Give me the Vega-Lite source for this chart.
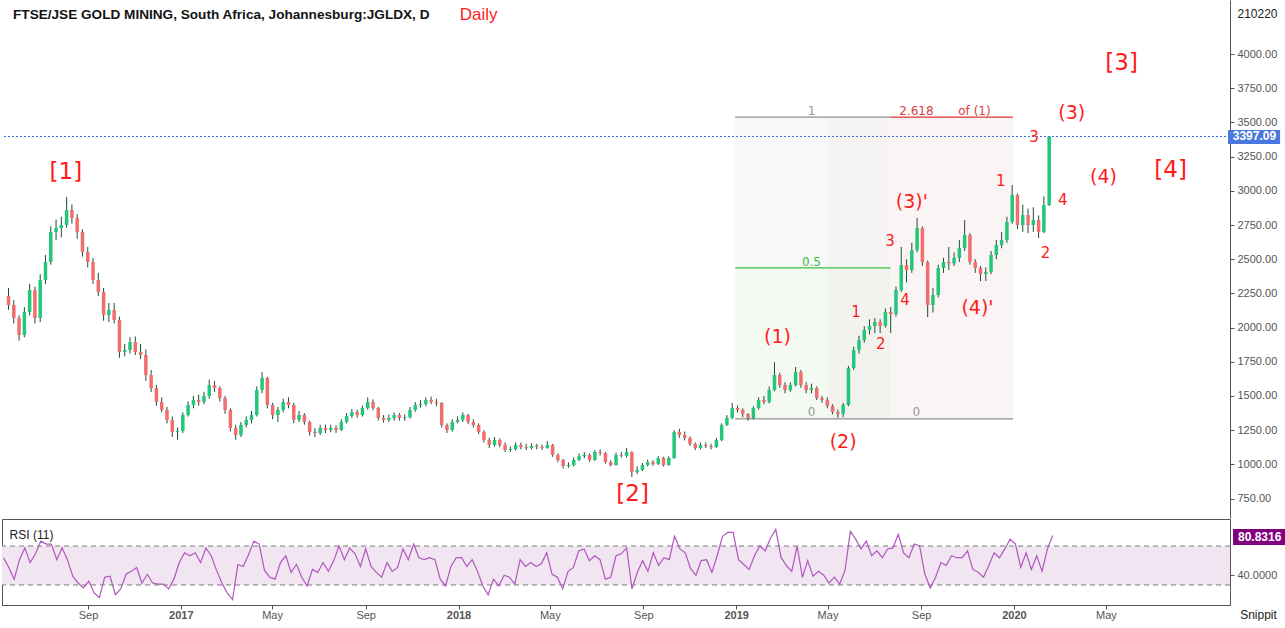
{
  "$schema": "https://vega.github.io/schema/vega-lite/v6.json",
  "padding": 0,
  "background": "white",
  "spacing": 0,
  "config": {
    "view": {"stroke": null},
    "font": "Liberation Sans",
    "concat": {"spacing": 0},
    "axis": {"labelOverlap": false, "labelFlush": false}
  },
  "datasets": {
    "px": [
      {"d":"2016-05-13","o":2230,"h":2290,"l":2130,"c":2165,"r":58},
      {"d":"2016-05-20","o":2165,"h":2200,"l":2030,"c":2070,"r":48},
      {"d":"2016-05-27","o":2070,"h":2090,"l":1905,"c":1946,"r":36},
      {"d":"2016-06-03","o":1946,"h":2150,"l":1930,"c":2114,"r":56},
      {"d":"2016-06-10","o":2114,"h":2320,"l":2090,"c":2275,"r":68},
      {"d":"2016-06-17","o":2275,"h":2300,"l":2030,"c":2070,"r":53},
      {"d":"2016-06-24","o":2070,"h":2390,"l":2040,"c":2348,"r":62},
      {"d":"2016-07-01","o":2348,"h":2530,"l":2320,"c":2480,"r":75},
      {"d":"2016-07-08","o":2480,"h":2740,"l":2460,"c":2699,"r":72},
      {"d":"2016-07-15","o":2699,"h":2790,"l":2640,"c":2728,"r":72},
      {"d":"2016-07-22","o":2728,"h":2810,"l":2660,"c":2750,"r":56},
      {"d":"2016-07-29","o":2750,"h":2955,"l":2730,"c":2860,"r":68},
      {"d":"2016-08-05","o":2860,"h":2900,"l":2760,"c":2801,"r":56},
      {"d":"2016-08-12","o":2801,"h":2830,"l":2650,"c":2699,"r":39},
      {"d":"2016-08-19","o":2699,"h":2720,"l":2520,"c":2553,"r":32},
      {"d":"2016-08-26","o":2553,"h":2590,"l":2440,"c":2480,"r":27},
      {"d":"2016-09-02","o":2480,"h":2510,"l":2320,"c":2348,"r":34},
      {"d":"2016-09-09","o":2348,"h":2400,"l":2230,"c":2260,"r":22},
      {"d":"2016-09-16","o":2260,"h":2290,"l":2050,"c":2092,"r":17},
      {"d":"2016-09-23","o":2092,"h":2180,"l":2040,"c":2129,"r":38},
      {"d":"2016-09-30","o":2129,"h":2180,"l":2030,"c":2055,"r":39},
      {"d":"2016-10-07","o":2055,"h":2080,"l":1780,"c":1822,"r":20},
      {"d":"2016-10-14","o":1822,"h":1880,"l":1790,"c":1836,"r":26},
      {"d":"2016-10-21","o":1836,"h":1930,"l":1810,"c":1895,"r":41},
      {"d":"2016-10-28","o":1895,"h":1935,"l":1800,"c":1822,"r":44},
      {"d":"2016-11-04","o":1822,"h":1880,"l":1770,"c":1800,"r":48},
      {"d":"2016-11-11","o":1800,"h":1840,"l":1610,"c":1653,"r":32},
      {"d":"2016-11-18","o":1653,"h":1690,"l":1530,"c":1558,"r":41},
      {"d":"2016-11-25","o":1558,"h":1580,"l":1430,"c":1456,"r":32},
      {"d":"2016-12-02","o":1456,"h":1490,"l":1380,"c":1398,"r":31},
      {"d":"2016-12-09","o":1398,"h":1420,"l":1300,"c":1325,"r":31},
      {"d":"2016-12-16","o":1325,"h":1350,"l":1200,"c":1237,"r":26},
      {"d":"2016-12-23","o":1237,"h":1270,"l":1180,"c":1245,"r":36},
      {"d":"2016-12-30","o":1245,"h":1380,"l":1230,"c":1361,"r":53},
      {"d":"2017-01-06","o":1361,"h":1460,"l":1350,"c":1434,"r":63},
      {"d":"2017-01-13","o":1434,"h":1500,"l":1410,"c":1471,"r":60},
      {"d":"2017-01-20","o":1471,"h":1510,"l":1430,"c":1456,"r":63},
      {"d":"2017-01-27","o":1456,"h":1530,"l":1440,"c":1500,"r":53},
      {"d":"2017-02-03","o":1500,"h":1620,"l":1480,"c":1580,"r":68},
      {"d":"2017-02-10","o":1580,"h":1610,"l":1530,"c":1558,"r":60},
      {"d":"2017-02-17","o":1558,"h":1570,"l":1460,"c":1485,"r":45},
      {"d":"2017-02-24","o":1485,"h":1500,"l":1370,"c":1398,"r":32},
      {"d":"2017-03-03","o":1398,"h":1410,"l":1240,"c":1266,"r":22},
      {"d":"2017-03-10","o":1266,"h":1290,"l":1180,"c":1215,"r":15},
      {"d":"2017-03-17","o":1215,"h":1310,"l":1200,"c":1288,"r":51},
      {"d":"2017-03-24","o":1288,"h":1350,"l":1270,"c":1325,"r":49},
      {"d":"2017-03-31","o":1325,"h":1390,"l":1300,"c":1361,"r":61},
      {"d":"2017-04-07","o":1361,"h":1570,"l":1350,"c":1544,"r":75},
      {"d":"2017-04-14","o":1544,"h":1675,"l":1520,"c":1632,"r":72},
      {"d":"2017-04-21","o":1632,"h":1640,"l":1410,"c":1434,"r":45},
      {"d":"2017-04-28","o":1434,"h":1450,"l":1330,"c":1361,"r":38},
      {"d":"2017-05-05","o":1361,"h":1420,"l":1310,"c":1398,"r":36},
      {"d":"2017-05-12","o":1398,"h":1480,"l":1380,"c":1456,"r":53},
      {"d":"2017-05-19","o":1456,"h":1490,"l":1410,"c":1434,"r":60},
      {"d":"2017-05-26","o":1434,"h":1450,"l":1300,"c":1325,"r":43},
      {"d":"2017-06-02","o":1325,"h":1390,"l":1310,"c":1361,"r":51},
      {"d":"2017-06-09","o":1361,"h":1375,"l":1290,"c":1310,"r":38},
      {"d":"2017-06-16","o":1310,"h":1320,"l":1210,"c":1237,"r":29},
      {"d":"2017-06-23","o":1237,"h":1265,"l":1200,"c":1229,"r":46},
      {"d":"2017-06-30","o":1229,"h":1290,"l":1215,"c":1266,"r":43},
      {"d":"2017-07-07","o":1266,"h":1290,"l":1230,"c":1251,"r":53},
      {"d":"2017-07-14","o":1251,"h":1290,"l":1235,"c":1266,"r":44},
      {"d":"2017-07-21","o":1266,"h":1285,"l":1230,"c":1251,"r":55},
      {"d":"2017-07-28","o":1251,"h":1330,"l":1245,"c":1310,"r":70},
      {"d":"2017-08-04","o":1310,"h":1375,"l":1300,"c":1354,"r":56},
      {"d":"2017-08-11","o":1354,"h":1405,"l":1340,"c":1383,"r":68},
      {"d":"2017-08-18","o":1383,"h":1400,"l":1340,"c":1361,"r":62},
      {"d":"2017-08-25","o":1361,"h":1430,"l":1350,"c":1412,"r":49},
      {"d":"2017-09-01","o":1412,"h":1490,"l":1400,"c":1456,"r":67},
      {"d":"2017-09-08","o":1456,"h":1475,"l":1395,"c":1412,"r":49},
      {"d":"2017-09-15","o":1412,"h":1420,"l":1320,"c":1339,"r":43},
      {"d":"2017-09-22","o":1339,"h":1360,"l":1305,"c":1325,"r":38},
      {"d":"2017-09-29","o":1325,"h":1365,"l":1310,"c":1339,"r":53},
      {"d":"2017-10-06","o":1339,"h":1380,"l":1320,"c":1361,"r":44},
      {"d":"2017-10-13","o":1361,"h":1375,"l":1320,"c":1339,"r":48},
      {"d":"2017-10-20","o":1339,"h":1365,"l":1320,"c":1345,"r":67},
      {"d":"2017-10-27","o":1345,"h":1420,"l":1335,"c":1398,"r":56},
      {"d":"2017-11-03","o":1398,"h":1455,"l":1385,"c":1434,"r":72},
      {"d":"2017-11-10","o":1434,"h":1470,"l":1415,"c":1441,"r":58},
      {"d":"2017-11-17","o":1441,"h":1490,"l":1425,"c":1471,"r":56},
      {"d":"2017-11-24","o":1471,"h":1495,"l":1440,"c":1456,"r":58},
      {"d":"2017-12-01","o":1456,"h":1480,"l":1425,"c":1449,"r":56},
      {"d":"2017-12-08","o":1449,"h":1455,"l":1270,"c":1288,"r":36},
      {"d":"2017-12-15","o":1288,"h":1300,"l":1230,"c":1251,"r":29},
      {"d":"2017-12-22","o":1251,"h":1330,"l":1240,"c":1310,"r":49},
      {"d":"2017-12-29","o":1310,"h":1350,"l":1300,"c":1325,"r":58},
      {"d":"2018-01-05","o":1325,"h":1380,"l":1310,"c":1361,"r":58},
      {"d":"2018-01-12","o":1361,"h":1370,"l":1295,"c":1310,"r":49},
      {"d":"2018-01-19","o":1310,"h":1330,"l":1270,"c":1288,"r":56},
      {"d":"2018-01-26","o":1288,"h":1300,"l":1220,"c":1237,"r":44},
      {"d":"2018-02-02","o":1237,"h":1250,"l":1160,"c":1178,"r":29},
      {"d":"2018-02-09","o":1178,"h":1195,"l":1120,"c":1142,"r":20},
      {"d":"2018-02-16","o":1142,"h":1200,"l":1130,"c":1178,"r":36},
      {"d":"2018-02-23","o":1178,"h":1190,"l":1125,"c":1142,"r":29},
      {"d":"2018-03-02","o":1142,"h":1160,"l":1090,"c":1105,"r":40},
      {"d":"2018-03-09","o":1105,"h":1130,"l":1090,"c":1112,"r":38},
      {"d":"2018-03-16","o":1112,"h":1160,"l":1100,"c":1142,"r":31},
      {"d":"2018-03-23","o":1142,"h":1160,"l":1110,"c":1127,"r":56},
      {"d":"2018-03-30","o":1127,"h":1150,"l":1105,"c":1120,"r":49},
      {"d":"2018-04-06","o":1120,"h":1155,"l":1110,"c":1134,"r":53},
      {"d":"2018-04-13","o":1134,"h":1150,"l":1110,"c":1127,"r":49},
      {"d":"2018-04-20","o":1127,"h":1145,"l":1105,"c":1120,"r":52},
      {"d":"2018-04-27","o":1120,"h":1170,"l":1115,"c":1142,"r":63},
      {"d":"2018-05-04","o":1142,"h":1150,"l":1055,"c":1069,"r":41},
      {"d":"2018-05-11","o":1069,"h":1080,"l":1015,"c":1032,"r":38},
      {"d":"2018-05-18","o":1032,"h":1040,"l":970,"c":988,"r":26},
      {"d":"2018-05-25","o":988,"h":1015,"l":975,"c":995,"r":44},
      {"d":"2018-06-01","o":995,"h":1050,"l":985,"c":1032,"r":48},
      {"d":"2018-06-08","o":1032,"h":1080,"l":1025,"c":1061,"r":65},
      {"d":"2018-06-15","o":1061,"h":1090,"l":1045,"c":1069,"r":67},
      {"d":"2018-06-22","o":1069,"h":1080,"l":1020,"c":1032,"r":55},
      {"d":"2018-06-29","o":1032,"h":1105,"l":1025,"c":1090,"r":60},
      {"d":"2018-07-06","o":1090,"h":1110,"l":1065,"c":1083,"r":56},
      {"d":"2018-07-13","o":1083,"h":1090,"l":1005,"c":1017,"r":36},
      {"d":"2018-07-20","o":1017,"h":1030,"l":985,"c":995,"r":38},
      {"d":"2018-07-27","o":995,"h":1085,"l":990,"c":1069,"r":60},
      {"d":"2018-08-03","o":1069,"h":1090,"l":1050,"c":1062,"r":62},
      {"d":"2018-08-10","o":1062,"h":1120,"l":1050,"c":1090,"r":68},
      {"d":"2018-08-17","o":1090,"h":1095,"l":908,"c":944,"r":26},
      {"d":"2018-08-24","o":944,"h":985,"l":930,"c":959,"r":43},
      {"d":"2018-08-31","o":959,"h":1010,"l":950,"c":995,"r":55},
      {"d":"2018-09-07","o":995,"h":1035,"l":985,"c":1017,"r":44},
      {"d":"2018-09-14","o":1017,"h":1030,"l":990,"c":1003,"r":63},
      {"d":"2018-09-21","o":1003,"h":1060,"l":995,"c":1047,"r":50},
      {"d":"2018-09-28","o":1047,"h":1055,"l":985,"c":995,"r":58},
      {"d":"2018-10-05","o":995,"h":1060,"l":990,"c":1047,"r":56},
      {"d":"2018-10-12","o":1047,"h":1250,"l":1040,"c":1237,"r":80},
      {"d":"2018-10-19","o":1237,"h":1260,"l":1195,"c":1215,"r":67},
      {"d":"2018-10-26","o":1215,"h":1240,"l":1175,"c":1193,"r":63},
      {"d":"2018-11-02","o":1193,"h":1205,"l":1135,"c":1149,"r":47},
      {"d":"2018-11-09","o":1149,"h":1160,"l":1105,"c":1120,"r":40},
      {"d":"2018-11-16","o":1120,"h":1160,"l":1110,"c":1142,"r":55},
      {"d":"2018-11-23","o":1142,"h":1160,"l":1120,"c":1134,"r":56},
      {"d":"2018-11-30","o":1134,"h":1150,"l":1110,"c":1127,"r":43},
      {"d":"2018-12-07","o":1127,"h":1195,"l":1120,"c":1178,"r":60},
      {"d":"2018-12-14","o":1178,"h":1300,"l":1170,"c":1288,"r":80},
      {"d":"2018-12-21","o":1288,"h":1360,"l":1280,"c":1339,"r":84},
      {"d":"2018-12-28","o":1339,"h":1450,"l":1330,"c":1412,"r":84},
      {"d":"2019-01-04","o":1412,"h":1430,"l":1380,"c":1398,"r":56},
      {"d":"2019-01-11","o":1398,"h":1410,"l":1345,"c":1368,"r":51},
      {"d":"2019-01-18","o":1368,"h":1375,"l":1320,"c":1339,"r":46},
      {"d":"2019-01-25","o":1339,"h":1425,"l":1330,"c":1412,"r":60},
      {"d":"2019-02-01","o":1412,"h":1490,"l":1400,"c":1471,"r":70},
      {"d":"2019-02-08","o":1471,"h":1500,"l":1440,"c":1456,"r":65},
      {"d":"2019-02-15","o":1456,"h":1570,"l":1445,"c":1544,"r":78},
      {"d":"2019-02-22","o":1544,"h":1748,"l":1535,"c":1653,"r":87},
      {"d":"2019-03-01","o":1653,"h":1670,"l":1560,"c":1580,"r":58},
      {"d":"2019-03-08","o":1580,"h":1600,"l":1520,"c":1544,"r":50},
      {"d":"2019-03-15","o":1544,"h":1600,"l":1530,"c":1580,"r":44},
      {"d":"2019-03-22","o":1580,"h":1712,"l":1570,"c":1675,"r":70},
      {"d":"2019-03-29","o":1675,"h":1690,"l":1560,"c":1580,"r":38},
      {"d":"2019-04-05","o":1580,"h":1600,"l":1520,"c":1544,"r":55},
      {"d":"2019-04-12","o":1544,"h":1590,"l":1520,"c":1558,"r":39},
      {"d":"2019-04-19","o":1558,"h":1570,"l":1470,"c":1485,"r":44},
      {"d":"2019-04-26","o":1485,"h":1500,"l":1450,"c":1471,"r":40},
      {"d":"2019-05-03","o":1471,"h":1490,"l":1410,"c":1427,"r":32},
      {"d":"2019-05-10","o":1427,"h":1440,"l":1365,"c":1383,"r":38},
      {"d":"2019-05-17","o":1383,"h":1400,"l":1340,"c":1368,"r":31},
      {"d":"2019-05-24","o":1368,"h":1450,"l":1345,"c":1434,"r":45},
      {"d":"2019-05-31","o":1434,"h":1720,"l":1425,"c":1705,"r":85},
      {"d":"2019-06-07","o":1705,"h":1860,"l":1690,"c":1836,"r":77},
      {"d":"2019-06-14","o":1836,"h":1940,"l":1810,"c":1909,"r":67},
      {"d":"2019-06-21","o":1909,"h":2010,"l":1890,"c":1982,"r":75},
      {"d":"2019-06-28","o":1982,"h":2060,"l":1950,"c":2012,"r":60},
      {"d":"2019-07-05","o":2012,"h":2070,"l":1960,"c":2041,"r":65},
      {"d":"2019-07-12","o":2041,"h":2060,"l":1960,"c":2012,"r":58},
      {"d":"2019-07-19","o":2012,"h":2140,"l":2000,"c":2114,"r":67},
      {"d":"2019-07-26","o":2114,"h":2150,"l":1960,"c":2099,"r":68},
      {"d":"2019-08-02","o":2099,"h":2300,"l":2080,"c":2275,"r":82},
      {"d":"2019-08-09","o":2275,"h":2590,"l":2260,"c":2458,"r":63},
      {"d":"2019-08-16","o":2458,"h":2500,"l":2330,"c":2421,"r":58},
      {"d":"2019-08-23","o":2421,"h":2620,"l":2400,"c":2567,"r":72},
      {"d":"2019-08-30","o":2567,"h":2801,"l":2550,"c":2728,"r":70},
      {"d":"2019-09-06","o":2728,"h":2740,"l":2450,"c":2480,"r":41},
      {"d":"2019-09-13","o":2480,"h":2490,"l":2077,"c":2165,"r":27},
      {"d":"2019-09-20","o":2165,"h":2290,"l":2110,"c":2238,"r":38},
      {"d":"2019-09-27","o":2238,"h":2460,"l":2220,"c":2436,"r":53},
      {"d":"2019-10-04","o":2436,"h":2510,"l":2400,"c":2480,"r":50},
      {"d":"2019-10-11","o":2480,"h":2590,"l":2420,"c":2470,"r":60},
      {"d":"2019-10-18","o":2470,"h":2550,"l":2450,"c":2509,"r":58},
      {"d":"2019-10-25","o":2509,"h":2640,"l":2480,"c":2582,"r":58},
      {"d":"2019-11-01","o":2582,"h":2787,"l":2560,"c":2677,"r":65},
      {"d":"2019-11-08","o":2677,"h":2690,"l":2460,"c":2480,"r":46},
      {"d":"2019-11-15","o":2480,"h":2500,"l":2400,"c":2436,"r":43},
      {"d":"2019-11-22","o":2436,"h":2450,"l":2340,"c":2392,"r":38},
      {"d":"2019-11-29","o":2392,"h":2440,"l":2340,"c":2406,"r":50},
      {"d":"2019-12-06","o":2406,"h":2560,"l":2390,"c":2531,"r":63},
      {"d":"2019-12-13","o":2531,"h":2640,"l":2500,"c":2604,"r":58},
      {"d":"2019-12-20","o":2604,"h":2700,"l":2580,"c":2640,"r":67},
      {"d":"2019-12-27","o":2640,"h":2810,"l":2620,"c":2772,"r":77},
      {"d":"2020-01-03","o":2772,"h":3042,"l":2760,"c":2969,"r":72},
      {"d":"2020-01-10","o":2969,"h":2980,"l":2720,"c":2750,"r":48},
      {"d":"2020-01-17","o":2750,"h":2900,"l":2700,"c":2823,"r":63},
      {"d":"2020-01-24","o":2823,"h":2870,"l":2690,"c":2750,"r":46},
      {"d":"2020-01-31","o":2750,"h":2880,"l":2700,"c":2787,"r":60},
      {"d":"2020-02-07","o":2787,"h":2820,"l":2655,"c":2699,"r":44},
      {"d":"2020-02-14","o":2699,"h":2960,"l":2690,"c":2896,"r":67},
      {"d":"2020-02-21","o":2896,"h":3397.09,"l":2890,"c":3397.09,"r":80.83}
    ],
    "zones": [
      {"a":"2019-01-01","b":"2019-05-03","lo":2436,"hi":3539,"z":"A"},
      {"a":"2019-01-01","b":"2019-05-03","lo":1332,"hi":2436,"z":"B"},
      {"a":"2019-05-03","b":"2019-07-26","lo":2436,"hi":3539,"z":"C"},
      {"a":"2019-05-03","b":"2019-07-26","lo":1332,"hi":2436,"z":"D"},
      {"a":"2019-07-26","b":"2020-01-04","lo":1332,"hi":3539,"z":"E"}
    ],
    "fibs": [
      {"a":"2019-01-01","b":"2019-07-26","p":3539,"k":"gray"},
      {"a":"2019-07-26","b":"2020-01-04","p":3539,"k":"red"},
      {"a":"2019-01-01","b":"2019-07-26","p":2436,"k":"green"},
      {"a":"2019-01-01","b":"2020-01-04","p":1332,"k":"gray"}
    ],
    "labels": [
      {"d":"2016-07-28","p":3137,"t":"[1]","g":"big"},
      {"d":"2018-08-18","p":784,"t":"[2]","g":"big"},
      {"d":"2020-05-27","p":3934,"t":"[3]","g":"big"},
      {"d":"2020-07-31","p":3152,"t":"[4]","g":"big"},
      {"d":"2019-02-26","p":1931,"t":"(1)","g":"mid"},
      {"d":"2019-05-24","p":1164,"t":"(2)","g":"mid"},
      {"d":"2019-08-23","p":2918,"t":"(3)'","g":"mid"},
      {"d":"2019-11-18","p":2143,"t":"(4)'","g":"mid"},
      {"d":"2020-03-22","p":3569,"t":"(3)","g":"mid"},
      {"d":"2020-05-03","p":3101,"t":"(4)","g":"mid"},
      {"d":"2019-06-10","p":2114,"t":"1","g":"small"},
      {"d":"2019-07-13","p":1880,"t":"2","g":"small"},
      {"d":"2019-07-25","p":2633,"t":"3","g":"small"},
      {"d":"2019-08-14","p":2202,"t":"4","g":"small"},
      {"d":"2019-12-19","p":3072,"t":"1","g":"small"},
      {"d":"2020-02-16","p":2545,"t":"2","g":"small"},
      {"d":"2020-02-01","p":3393,"t":"3","g":"small"},
      {"d":"2020-03-10","p":2933,"t":"4","g":"small"},
      {"d":"2019-04-12","p":3585,"t":"1","g":"fgray"},
      {"d":"2019-08-29","p":3585,"t":"2.618","g":"fred"},
      {"d":"2019-11-14","p":3585,"t":"of (1)","g":"fred"},
      {"d":"2019-04-12","p":2480,"t":"0.5","g":"fgreen"},
      {"d":"2019-04-12","p":1380,"t":"0","g":"fgray"},
      {"d":"2019-08-29","p":1380,"t":"0","g":"fgray"}
    ],
    "head": [
      {"d":"2016-05-19","p":4285,"t":"FTSE/JSE GOLD MINING, South Africa, Johannesburg:JGLDX, D","g":"title"},
      {"d":"2018-01-01","p":4285,"t":"Daily","g":"daily"}
    ],
    "lastPrice": [
      {"a":"2020-10-15","b":"2020-12-23","m":"2020-11-19","lo":3342,"hi":3445,"v":3397.09,"t":"3397.09"}
    ],
    "lastRsi": [
      {"a":"2020-10-15","b":"2020-12-23","m":"2020-11-19","lo":71,"hi":87.4,"v":79.2,"t":"80.8316"}
    ],
    "band": [{"lo":30,"hi":70}],
    "rsiTitle": [{"d":"2016-05-21","v":81.3,"t":"RSI (11)"}]
  },
  "vconcat": [
    {
      "width": 1228,
      "height": 518,
      "layer": [
        {
          "data": {"name": "zones"},
          "mark": {"type": "rect"},
          "encoding": {
            "x": {
              "field": "a",
              "type": "temporal",
              "scale": {"domain": ["2016-05-11", "2020-10-11"]},
              "axis": null
            },
            "x2": {"field": "b"},
            "y": {
              "field": "lo",
              "type": "quantitative",
              "scale": {"domain": [608, 4395], "nice": false, "zero": false},
              "axis": {
                "orient": "right",
                "values": [750, 1000, 1250, 1500, 1750, 2000, 2250, 2500, 2750, 3000, 3250, 3500, 3750, 4000],
                "tickCount": 30,
                "format": ".2f",
                "labelOverlap": false,
                "title": "210220",
                "titleAngle": 0,
                "titleAlign": "left",
                "titleBaseline": "middle",
                "titleX": 7,
                "titleY": 13,
                "titleFontSize": 12,
                "titleFontWeight": "normal",
                "titleColor": "#222222",
                "grid": false,
                "tickSize": 4,
                "tickColor": "#555555",
                "domainColor": "#555555",
                "labelColor": "#555555",
                "labelFontSize": 11,
                "labelPadding": 3
              }
            },
            "y2": {"field": "hi"},
            "color": {
              "condition": [
                {"test": "datum.z == 'A'", "value": "#f9f9f9"},
                {"test": "datum.z == 'B'", "value": "#f4faf2"},
                {"test": "datum.z == 'C'", "value": "#f6f4f3"},
                {"test": "datum.z == 'D'", "value": "#f2f3ee"}
              ],
              "value": "#fbf4f4"
            }
          }
        },
        {
          "data": {"name": "fibs"},
          "mark": {"type": "rule", "strokeWidth": 1.3},
          "encoding": {
            "x": {"field": "a", "type": "temporal", "axis": null},
            "x2": {"field": "b"},
            "y": {"field": "p", "type": "quantitative"},
            "color": {
              "condition": [
                {"test": "datum.k == 'red'", "value": "#d93636"},
                {"test": "datum.k == 'green'", "value": "#3cbf3c"}
              ],
              "value": "#8f8f8f"
            }
          }
        },
        {
          "data": {"name": "lastPrice"},
          "mark": {"type": "rule", "color": "#3a6ee8", "strokeDash": [2, 2], "strokeWidth": 1},
          "encoding": {
            "y": {"field": "v", "type": "quantitative"}
          }
        },
        {
          "data": {"name": "px"},
          "mark": {"type": "rule", "color": "#1d4d3a", "strokeWidth": 1},
          "encoding": {
            "x": {"field": "d", "type": "temporal", "axis": null},
            "y": {"field": "l", "type": "quantitative"},
            "y2": {"field": "h"}
          }
        },
        {
          "data": {"name": "px"},
          "mark": {"type": "bar", "size": 3.5},
          "encoding": {
            "x": {"field": "d", "type": "temporal", "axis": null},
            "y": {"field": "o", "type": "quantitative"},
            "y2": {"field": "c"},
            "color": {
              "condition": {"test": "datum.c >= datum.o", "value": "#22c77a"},
              "value": "#f26d6d"
            }
          }
        },
        {
          "data": {"name": "labels"},
          "mark": {"type": "text", "align": "center", "baseline": "middle", "font": "DejaVu Sans"},
          "encoding": {
            "x": {"field": "d", "type": "temporal", "axis": null},
            "y": {"field": "p", "type": "quantitative"},
            "text": {"field": "t"},
            "size": {
              "condition": [
                {"test": "datum.g == 'big'", "value": 23},
                {"test": "datum.g == 'mid'", "value": 19},
                {"test": "datum.g == 'small'", "value": 15}
              ],
              "value": 12
            },
            "color": {
              "condition": [
                {"test": "datum.g == 'fgray'", "value": "#9a9a9a"},
                {"test": "datum.g == 'fred'", "value": "#d94040"},
                {"test": "datum.g == 'fgreen'", "value": "#3cbf3c"}
              ],
              "value": "#ff1a1a"
            }
          }
        },
        {
          "data": {"name": "head"},
          "transform": [{"filter": "datum.g == 'title'"}],
          "mark": {"type": "text", "align": "left", "baseline": "middle", "fontWeight": "bold", "fontSize": 13.6, "color": "#131313"},
          "encoding": {
            "x": {"field": "d", "type": "temporal", "axis": null},
            "y": {"field": "p", "type": "quantitative"},
            "text": {"field": "t"}
          }
        },
        {
          "data": {"name": "head"},
          "transform": [{"filter": "datum.g == 'daily'"}],
          "mark": {"type": "text", "align": "left", "baseline": "middle", "fontSize": 17, "color": "#ff1a1a"},
          "encoding": {
            "x": {"field": "d", "type": "temporal", "axis": null},
            "y": {"field": "p", "type": "quantitative"},
            "text": {"field": "t"}
          }
        },
        {
          "data": {"name": "lastPrice"},
          "mark": {"type": "rect", "color": "#4a78e0"},
          "encoding": {
            "x": {"field": "a", "type": "temporal", "axis": null},
            "x2": {"field": "b"},
            "y": {"field": "lo", "type": "quantitative"},
            "y2": {"field": "hi"}
          }
        },
        {
          "data": {"name": "lastPrice"},
          "mark": {"type": "text", "color": "white", "fontWeight": "bold", "fontSize": 12, "align": "center", "baseline": "middle"},
          "encoding": {
            "x": {"field": "m", "type": "temporal", "axis": null},
            "y": {"field": "v", "type": "quantitative"},
            "text": {"field": "t"}
          }
        }
      ]
    },
    {
      "width": 1228,
      "height": 86,
      "view": {"stroke": "#555555"},
      "layer": [
        {
          "data": {"name": "band"},
          "mark": {"type": "rect", "color": "#f2e5f2"},
          "encoding": {
            "y": {
              "field": "lo",
              "type": "quantitative",
              "scale": {"domain": [9.5, 97.7], "nice": false, "zero": false},
              "axis": {
                "orient": "right",
                "values": [40],
                "format": ".4f",
                "title": null,
                "grid": false,
                "tickSize": 4,
                "tickColor": "#555555",
                "domainColor": "#555555",
                "labelColor": "#555555",
                "labelFontSize": 11,
                "labelPadding": 3
              }
            },
            "y2": {"field": "hi"}
          }
        },
        {
          "data": {"name": "band"},
          "mark": {"type": "rule", "color": "#7a7a7a", "strokeDash": [5, 4]},
          "encoding": {"y": {"field": "lo", "type": "quantitative"}}
        },
        {
          "data": {"name": "band"},
          "mark": {"type": "rule", "color": "#7a7a7a", "strokeDash": [5, 4]},
          "encoding": {"y": {"field": "hi", "type": "quantitative"}}
        },
        {
          "data": {"name": "px"},
          "mark": {"type": "line", "color": "#b057bd", "strokeWidth": 1.2},
          "encoding": {
            "x": {
              "field": "d",
              "type": "temporal",
              "scale": {"domain": ["2016-05-11", "2020-10-11"]},
              "axis": {
                "orient": "bottom",
                "values": [
                  {"year": 2016, "month": 9, "date": 1},
                  {"year": 2017, "month": 1, "date": 1},
                  {"year": 2017, "month": 5, "date": 1},
                  {"year": 2017, "month": 9, "date": 1},
                  {"year": 2018, "month": 1, "date": 1},
                  {"year": 2018, "month": 5, "date": 1},
                  {"year": 2018, "month": 9, "date": 1},
                  {"year": 2019, "month": 1, "date": 1},
                  {"year": 2019, "month": 5, "date": 1},
                  {"year": 2019, "month": 9, "date": 1},
                  {"year": 2020, "month": 1, "date": 1},
                  {"year": 2020, "month": 5, "date": 1}
                ],
                "tickCount": 30,
                "labelExpr": "month(datum.value) == 0 ? timeFormat(datum.value, '%Y') : timeFormat(datum.value, '%b')",
                "labelFontWeight": {"condition": {"test": "month(datum.value) == 0", "value": "bold"}, "value": "normal"},
                "labelColor": "#555555",
                "labelFontSize": 11,
                "labelPadding": 0,
                "tickSize": 4,
                "tickColor": "#555555",
                "domainColor": "#555555",
                "grid": false,
                "title": "Snippit",
                "titleX": 1256,
                "titleY": 9,
                "titleAlign": "center",
                "titleBaseline": "middle",
                "titleFontSize": 12,
                "titleFontWeight": "normal",
                "titleColor": "#222222"
              }
            },
            "y": {"field": "r", "type": "quantitative"}
          }
        },
        {
          "data": {"name": "rsiTitle"},
          "mark": {"type": "text", "align": "left", "baseline": "middle", "fontSize": 12, "color": "#222222"},
          "encoding": {
            "x": {"field": "d", "type": "temporal"},
            "y": {"field": "v", "type": "quantitative"},
            "text": {"field": "t"}
          }
        },
        {
          "data": {"name": "lastRsi"},
          "mark": {"type": "rect", "color": "#800080"},
          "encoding": {
            "x": {"field": "a", "type": "temporal"},
            "x2": {"field": "b"},
            "y": {"field": "lo", "type": "quantitative"},
            "y2": {"field": "hi"}
          }
        },
        {
          "data": {"name": "lastRsi"},
          "mark": {"type": "text", "color": "white", "fontWeight": "bold", "fontSize": 12, "align": "center", "baseline": "middle"},
          "encoding": {
            "x": {"field": "m", "type": "temporal"},
            "y": {"field": "v", "type": "quantitative"},
            "text": {"field": "t"}
          }
        }
      ]
    }
  ]
}
